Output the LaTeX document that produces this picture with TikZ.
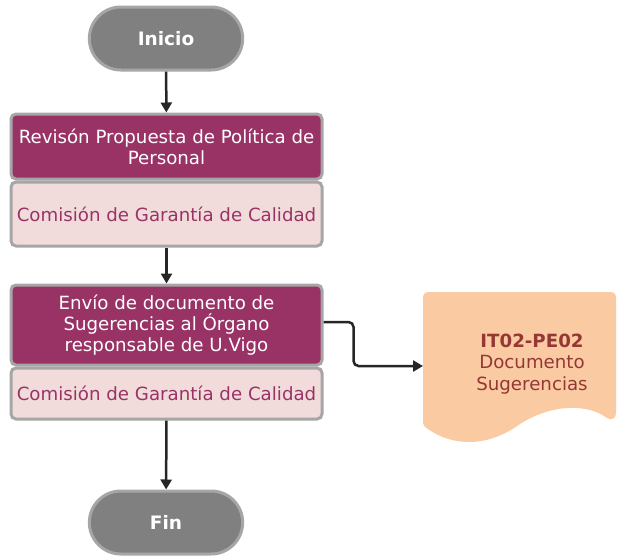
\documentclass[tikz,border=0pt]{standalone}
\usepackage{fontspec}
\setmainfont{DejaVu Sans}
\usetikzlibrary{arrows.meta,shapes.misc}
\definecolor{dpurple}{HTML}{993366}
\definecolor{lpink}{HTML}{F2DCDB}
\definecolor{bgray}{HTML}{A6A6A6}
\definecolor{tgray}{HTML}{808080}
\definecolor{docfill}{HTML}{FACBA2}
\definecolor{doctext}{HTML}{953735}
\definecolor{arrowc}{HTML}{262626}
\tikzset{
  term/.style={rounded rectangle, fill=tgray, draw=bgray, line width=3pt,
    minimum width=160, minimum height=63, text=white,
    font=\fontsize{18.5}{21}\selectfont\bfseries},
  topbox/.style={rectangle, rounded corners=5pt, fill=dpurple, draw=bgray, line width=3pt,
    minimum width=311, text=white, align=center, inner sep=0pt,
    font=\fontsize{18.2}{21}\selectfont},
  botbox/.style={rectangle, rounded corners=5pt, fill=lpink, draw=bgray, line width=3pt,
    minimum width=311, text=dpurple, align=center, inner sep=0pt,
    font=\fontsize{18.2}{21}\selectfont},
  conn/.style={draw=arrowc, line width=2.5pt, -{Triangle[width=11pt,length=10pt]}},
}
\begin{document}
\begin{tikzpicture}[x=1pt,y=-1pt]
\useasboundingbox (0,0) rectangle (617,557);
% document shape
\fill[docfill] (429,292) -- (610,292) .. controls (614,292) and (616,294) .. (616,298)
  -- (616,413) .. controls (616,418) and (612,421) .. (607,418)
  .. controls (590,405) and (555,402) .. (520,424)
  .. controls (490,446) and (455,448) .. (428,429)
  .. controls (424,427) and (423,425) .. (423,420)
  -- (423,298) .. controls (423,294) and (425,292) .. (429,292) -- cycle;
\node[text=doctext, align=center, font=\fontsize{18.2}{21.5}\selectfont] (doctxt) at (532,364)
  {\textbf{IT02-PE02}\\Documento\\Sugerencias};
\coordinate (docin) at (423,366);

\node[term] (start) at (166,38.5) {Inicio};
\node[topbox, minimum height=65] (b1top) at (166.5,146.5) {Revisón Propuesta de Política de\\Personal};
\node[botbox, minimum height=64] (b1bot) at (166.5,214) {Comisión de Garantía de Calidad};
\node[topbox, minimum height=80] (b2top) at (166.5,325) {Envío de documento de\\Sugerencias al Órgano\\responsable de U.Vigo};
\node[botbox, minimum height=51] (b2bot) at (166.5,393.5) {Comisión de Garantía de Calidad};
\node[term] (fin) at (166,522.5) {Fin};

\draw[conn] (start) -- (b1top);
\draw[conn] (b1bot) -- (b2top);
\draw[conn] (b2bot) -- (fin);
\draw[conn, rounded corners=5pt] ([yshift=3]b2top.east) -- ++(30,0) |- (docin);
\end{tikzpicture}
\end{document}
